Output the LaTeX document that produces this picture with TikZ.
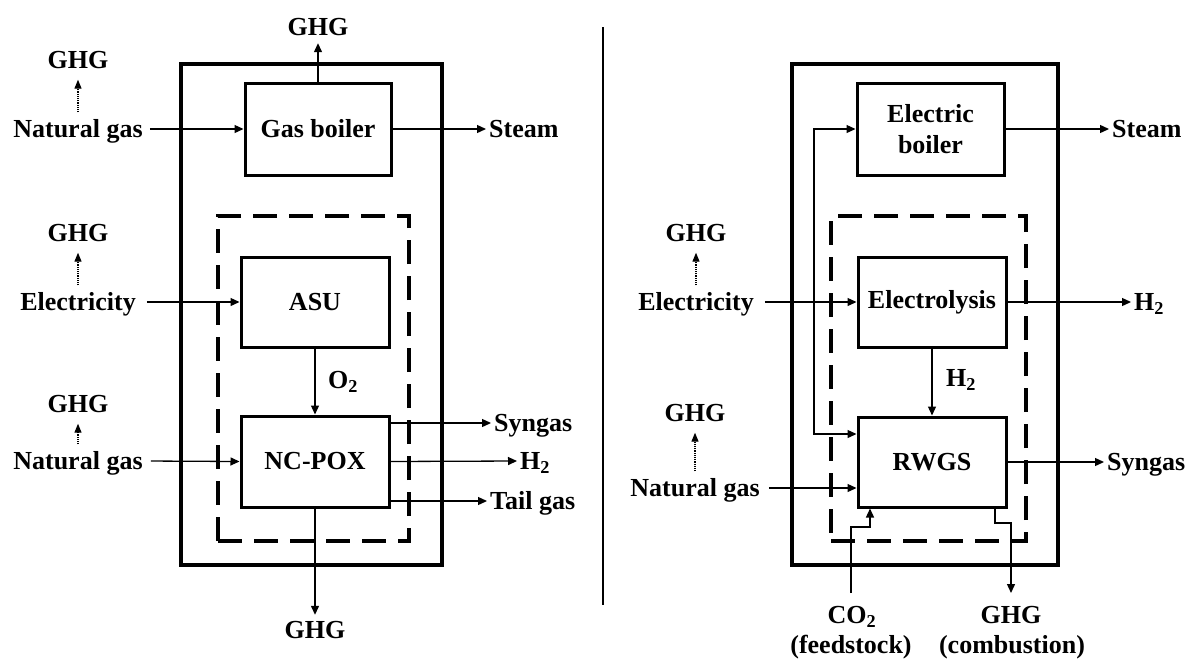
\documentclass[tikz,border=0pt]{standalone}
\usepackage{fontspec}
\setmainfont{Liberation Serif}
\usetikzlibrary{arrows.meta,calc}
\begin{document}
\begin{tikzpicture}[x=1pt,y=-1pt,
 font=\fontsize{26}{31}\selectfont\bfseries,
 box/.style={draw, line width=3pt, inner sep=0pt, align=center},
 lbl/.style={inner xsep=3pt, inner ysep=3pt, text height=17pt, text depth=0pt},
 arr/.style={line width=1.3pt, -{Triangle[length=9pt,width=8pt]}},
 dotarr/.style={line width=1.2pt, densely dotted, -{Triangle[length=9pt,width=7pt]}, shorten <=5pt, shorten >=8pt},
 frame/.style={draw, line width=3.2pt, inner sep=0pt},
 grp/.style={draw, line width=3.2pt, inner sep=0pt, dash pattern=on 24pt off 12pt},
]
\useasboundingbox (0,0) rectangle (1188,659);

% ---------- Left ----------
\node[frame, minimum width=261pt, minimum height=501pt] (outerL) at (311.5,314.5) {};
\node[grp, minimum width=191pt, minimum height=325pt] (grpL) at (313.5,378.5) {};
\node[box, minimum width=146pt, minimum height=92pt] (gb) at (318,129) {Gas boiler};
\node[box, minimum width=148pt, minimum height=90pt] (asu) at (315,302) {ASU};
\node[box, minimum width=148pt, minimum height=91pt] (pox) at (315,461.5) {NC-POX};

\node[lbl] (ghgT) at (318,27) {GHG};
\node[lbl] (ng1) at (78,129) {Natural gas};
\node[lbl] (g1) at (78,60) {GHG};
\node[lbl, anchor=west] (st1) at (486,129) {Steam};
\node[lbl] (el1) at (78,302) {Electricity};
\node[lbl] (g2) at (78,233) {GHG};
\node[lbl] (ng2) at (78,461) {Natural gas};
\node[lbl] (g3) at (78,404) {GHG};
\node[lbl] (o2) at (343,380) {O\textsubscript{2}};
\node[lbl, anchor=west] (sy1) at (491,423) {Syngas};
\node[lbl, anchor=west] (h21) at (517,461) {H\textsubscript{2}};
\node[lbl, anchor=west] (tg1) at (487,501) {Tail gas};
\node[lbl] (ghgB) at (315,630) {GHG};

\draw[arr, shorten >=4.5pt] (gb.north) -- (ghgT.south);
\draw[arr, shorten <=4pt] (ng1.east) -- (gb.west);
\draw[arr] (gb.east) -- (st1.west);
\draw[dotarr] (ng1.north) -- (g1.south);
\draw[arr, shorten <=8pt] (el1.east) -- (asu.west);
\draw[dotarr] (el1.north) -- (g2.south);
\draw[arr, shorten <=5pt] (ng2.east) -- (pox.west);
\draw[dotarr] (ng2.north) -- (g3.south);
\draw[arr] (asu.south) -- (pox.north);
\draw[arr] (pox.east |- sy1.west) -- (sy1.west);
\draw[arr] (pox.east) -- (h21.west);
\draw[arr] (pox.east |- tg1.west) -- (tg1.west);
\draw[arr, shorten >=3.5pt] (pox.south) -- (ghgB.north);

% ---------- Separator ----------
\draw[line width=2.6pt] (603,27) -- (603,605);

% ---------- Right ----------
\node[frame, minimum width=266pt, minimum height=501pt] (outerR) at (925,314.5) {};
\node[grp, minimum width=195pt, minimum height=325pt] (grpR) at (928.5,378.5) {};
\node[box, minimum width=147pt, minimum height=92pt] (eb) at (930.5,129) {Electric\\boiler};
\node[box, minimum width=148pt, minimum height=90pt] (ely) at (932,302) {Electrolysis};
\node[box, minimum width=148pt, minimum height=90pt] (rw) at (932,462) {RWGS};

\node[lbl] (el2) at (696,302) {Electricity};
\node[lbl] (g4) at (696,233) {GHG};
\node[lbl] (ng3) at (695,488) {Natural gas};
\node[lbl] (g5) at (695,413) {GHG};
\node[lbl, anchor=west] (st2) at (1109,129) {Steam};
\node[lbl, anchor=west] (h2r) at (1131,302) {H\textsubscript{2}};
\node[lbl] (h2d) at (961,378) {H\textsubscript{2}};
\node[lbl, anchor=west] (sy2) at (1104,462) {Syngas};
\node[lbl] (co2) at (852,615) {CO\textsubscript{2}};
\node[lbl] (feed) at (851,645) {(feedstock)};
\node[lbl] (g6) at (1011,615) {GHG};
\node[lbl] (comb) at (1012,645) {(combustion)};

\coordinate (br) at (814,302);
\draw[arr, shorten <=8pt] (el2.east) -- (ely.west);
\draw[arr] (br) |- (eb.west);
\draw[arr] (br) |- ([yshift=28pt]rw.west);
\draw[dotarr] (el2.north) -- (g4.south);
\draw[arr] (ely.east) -- (h2r.west);
\draw[arr] (eb.east) -- (st2.west);
\draw[arr] (ely.south) -- (rw.north);
\draw[arr, shorten <=6pt] (ng3.east) -- (ng3.east -| rw.west);
\draw[dotarr] (ng3.north) -- (g5.south);
\draw[arr] (rw.east) -- (sy2.west);
\coordinate (cs) at (851,593);
\coordinate (cb) at (870,527);
\draw[arr] (cs) |- (cb) -- (cb |- rw.south);
\coordinate (gk) at (1011,523);
\coordinate (ge) at (1011,593);
\draw[arr] ([xshift=63pt]rw.south) |- (gk) -- (ge);
\end{tikzpicture}
\end{document}
